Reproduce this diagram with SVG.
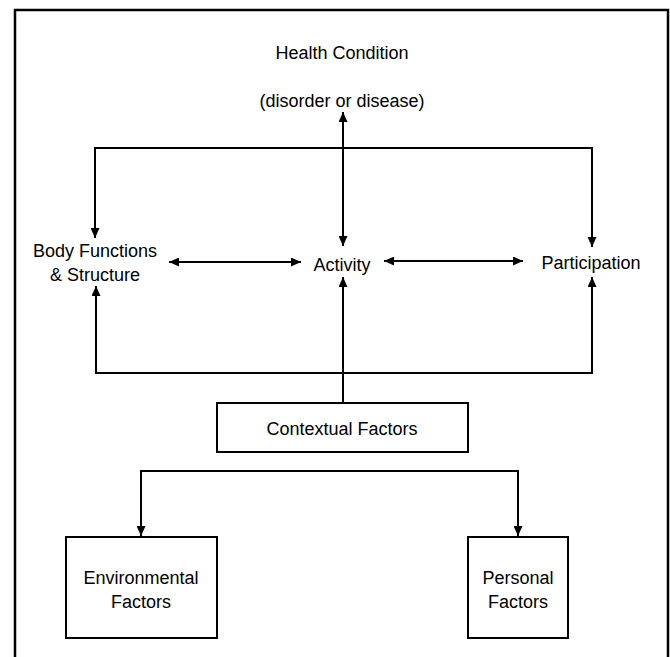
<svg xmlns="http://www.w3.org/2000/svg" width="670" height="657" viewBox="0 0 670 657">
<style>
text{font-family:"Liberation Sans",Arial,sans-serif;font-size:18px;fill:#000;text-anchor:middle}
.box{fill:#fff;stroke:#000;stroke-width:2}
.c{fill:none;stroke:#000;stroke-width:2}
</style>
<defs>
<marker id="ah" markerUnits="userSpaceOnUse" markerWidth="10" markerHeight="9" refX="10" refY="4.5" orient="auto-start-reverse" viewBox="0 0 10 9">
<path d="M0,0 L10,4.5 L0,9 z" fill="#000"/>
</marker>
</defs>
<rect x="15" y="10" width="653" height="665" fill="#fff" stroke="#000" stroke-width="2.5"/>
<g id="connectors">
<line class="c" x1="343" y1="112" x2="343" y2="246" marker-start="url(#ah)" marker-end="url(#ah)"/>
<path class="c" d="M95,238 V148 H592 V247" marker-start="url(#ah)" marker-end="url(#ah)"/>
<line class="c" x1="169" y1="262" x2="301" y2="262" marker-start="url(#ah)" marker-end="url(#ah)"/>
<line class="c" x1="384" y1="261" x2="523" y2="261" marker-start="url(#ah)" marker-end="url(#ah)"/>
<path class="c" d="M96,286 V373 H592 V277" marker-start="url(#ah)" marker-end="url(#ah)"/>
<line class="c" x1="343" y1="402" x2="343" y2="277" marker-end="url(#ah)"/>
<path class="c" d="M141,536 V471 H518 V536" marker-start="url(#ah)" marker-end="url(#ah)"/>
</g>
<g id="health">
<text x="342" y="59">Health Condition</text>
<text x="342" y="107">(disorder or disease)</text>
</g>
<g id="body">
<text x="95" y="257">Body Functions</text>
<text x="95" y="281">&amp; Structure</text>
</g>
<g id="activity">
<text x="342" y="271">Activity</text>
</g>
<g id="participation">
<text x="591" y="269">Participation</text>
</g>
<g id="contextual">
<rect class="box" x="217" y="403" width="251" height="49"/>
<text x="342" y="435">Contextual Factors</text>
</g>
<g id="environmental">
<rect class="box" x="66" y="537" width="151" height="101"/>
<text x="141" y="584">Environmental</text>
<text x="141" y="608">Factors</text>
</g>
<g id="personal">
<rect class="box" x="468" y="537" width="100" height="101"/>
<text x="518" y="584">Personal</text>
<text x="518" y="608">Factors</text>
</g>
</svg>
